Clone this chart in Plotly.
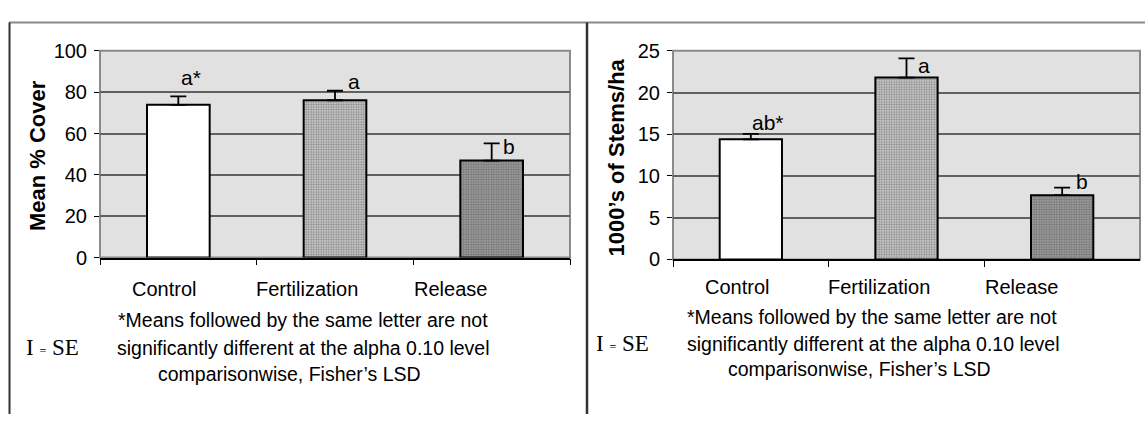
import plotly.graph_objects as go

# Treatment groups and measured responses
categories = ["Control", "Fertilization", "Release"]
cover_mean = [73.9, 76.1, 46.9]
cover_se = [4.1, 4.6, 8.3]
cover_letters = ["a*", "a", "b"]
stems_mean = [14.4, 21.8, 7.7]
stems_se = [0.65, 2.3, 0.9]
stems_letters = ["ab*", "a", "b"]
cover_ticks = [0, 20, 40, 60, 80, 100]
stems_ticks = [0, 5, 10, 15, 20, 25]
note_lines = [
    "*Means followed by the same letter are not",
    "significantly different at the alpha 0.10 level",
    "comparisonwise, Fisher\u2019s LSD",
]

W, H = 1145, 425
SANS = "Liberation Sans, Arial, sans-serif"
SERIF = "Liberation Serif, Times New Roman, serif"

# bar fills: plain, light stipple, dark stipple
bar_bg = ["#ffffff", "#d4d4d4", "#a4a4a4"]
bar_fg = ["#ffffff", "#a6a6a6", "#4e4e4e"]
bar_shape = ["", ".", "."]

# letter placement relative to error-bar top (px)
cover_lbl_dx = [13, 19, 17]
cover_lbl_dy = [19, 9, -3]
stems_lbl_dx = [17, 17, 20]
stems_lbl_dy = [11, -7, 6]
# category label horizontal offsets (px)
cat_dx = [-14, -28, -41]


def px_x(v):
    return v / W


def px_y(v):
    return 1 - v / H


fig = go.Figure()


def add_panel(means, ses, xa, ya):
    fig.add_trace(go.Bar(
        x=categories, y=means, xaxis=xa, yaxis=ya, width=0.4,
        marker=dict(
            color=bar_bg,
            line=dict(color="#000000", width=2),
            pattern=dict(shape=bar_shape, fgcolor=bar_fg, size=2.5,
                         solidity=0.5, fillmode="overlay"),
        ),
        error_y=dict(type="data", symmetric=False, array=ses,
                     arrayminus=[0] * len(ses), color="#000000",
                     thickness=1.8, width=8),
        showlegend=False, hoverinfo="skip",
    ))


add_panel(cover_mean, cover_se, "x", "y")
add_panel(stems_mean, stems_se, "x2", "y2")

left_dom_x = [px_x(100), px_x(570)]
left_dom_y = [px_y(260), px_y(42)]
right_dom_x = [px_x(673), px_x(1140)]
right_dom_y = [px_y(262), px_y(42)]

xcommon = dict(type="category", range=[-0.5, 2.5], tickson="boundaries",
               ticks="outside", ticklen=6, tickwidth=1.2, tickcolor="#000000",
               showticklabels=False, showgrid=False, showline=True,
               linecolor="#000000", linewidth=1.5, zeroline=False, fixedrange=True)
ycommon = dict(ticks="outside", ticklen=5, tickwidth=1.2, tickcolor="#000000",
               showgrid=True, gridcolor="#606060", gridwidth=1.5,
               showline=False, zeroline=False, fixedrange=True,
               ticklabelstandoff=3,
               tickfont=dict(family=SANS, size=20, color="#000000"))

fig.update_layout(
    width=W, height=H,
    margin=dict(l=0, r=0, t=0, b=0),
    paper_bgcolor="#ffffff", plot_bgcolor="#e1e1e1",
    bargap=0.6,
    xaxis=dict(domain=left_dom_x, anchor="y", **xcommon),
    yaxis=dict(domain=left_dom_y, anchor="x", range=[0, 100],
               tickvals=cover_ticks, **ycommon),
    xaxis2=dict(domain=right_dom_x, anchor="y2", **xcommon),
    yaxis2=dict(domain=right_dom_y, anchor="x2", range=[0, 25],
                tickvals=stems_ticks, **ycommon),
)

shapes = []
# plot-area frames
for dx, dy in ((left_dom_x, left_dom_y), (right_dom_x, right_dom_y)):
    shapes.append(dict(type="rect", xref="paper", yref="paper",
                       x0=dx[0], x1=dx[1], y0=dy[0], y1=dy[1],
                       line=dict(color="#8a8a8a", width=2), layer="below"))
# outer panel borders
shapes.append(dict(type="line", xref="paper", yref="paper",
                   x0=px_x(9), x1=1, y0=px_y(12), y1=px_y(12),
                   line=dict(color="#8a8a8a", width=2)))
shapes.append(dict(type="line", xref="paper", yref="paper",
                   x0=px_x(9.5), x1=px_x(9.5), y0=px_y(12), y1=0,
                   line=dict(color="#333333", width=2)))
shapes.append(dict(type="line", xref="paper", yref="paper",
                   x0=px_x(587), x1=px_x(587), y0=px_y(12), y1=0,
                   line=dict(color="#333333", width=2.5)))
fig.update_layout(shapes=shapes)

ann = []


def letters(xa, ya, means, ses, labels, dxs, dys):
    for c, m, s, t, dx, dy in zip(categories, means, ses, labels, dxs, dys):
        ann.append(dict(xref=xa, yref=ya, x=c, y=m + s, text=t,
                        showarrow=False, xanchor="center", yanchor="middle",
                        xshift=dx, yshift=dy,
                        font=dict(family=SANS, size=21, color="#000000")))


letters("x", "y", cover_mean, cover_se, cover_letters, cover_lbl_dx, cover_lbl_dy)
letters("x2", "y2", stems_mean, stems_se, stems_letters, stems_lbl_dx, stems_lbl_dy)

# category names under each panel
for xa, ya, sh in (("x", "y", -31), ("x2", "y2", -28)):
    for c, dx in zip(categories, cat_dx):
        ann.append(dict(xref=xa, yref=ya, x=c, y=0, text=c, showarrow=False,
                        xanchor="center", yanchor="middle", xshift=dx, yshift=sh,
                        font=dict(family=SANS, size=20, color="#000000")))

# axis titles
ann.append(dict(xref="paper", yref="paper", x=px_x(37), y=px_y(153),
                text="<b>Mean % Cover</b>", textangle=-90, showarrow=False,
                xanchor="center", yanchor="middle",
                font=dict(family=SANS, size=22, color="#000000")))
ann.append(dict(xref="paper", yref="paper", x=px_x(616.5), y=px_y(155),
                text="<b>1000\u2019s of Stems/ha</b>", textangle=-90, showarrow=False,
                xanchor="center", yanchor="middle",
                font=dict(family=SANS, size=22, color="#000000")))

# footnotes and SE key
for centers, ys, key_xy in (
    ([303, 303, 289], [326, 355, 383], (52, 355)),
    ([872, 873, 859], [323, 351, 378], (622, 351)),
):
    for line, cx, cy in zip(note_lines, centers, ys):
        ann.append(dict(xref="paper", yref="paper", x=px_x(cx), y=px_y(cy),
                        text=line, showarrow=False, xanchor="center",
                        yanchor="middle",
                        font=dict(family=SANS, size=19.5, color="#000000")))
    ann.append(dict(xref="paper", yref="paper", x=px_x(key_xy[0]), y=px_y(key_xy[1]),
                    text="I <span style='font-size:12px'>=</span> SE",
                    showarrow=False, xanchor="center", yanchor="middle",
                    font=dict(family=SERIF, size=23, color="#000000")))

fig.update_layout(annotations=ann)

fig.write_html("out.html")
